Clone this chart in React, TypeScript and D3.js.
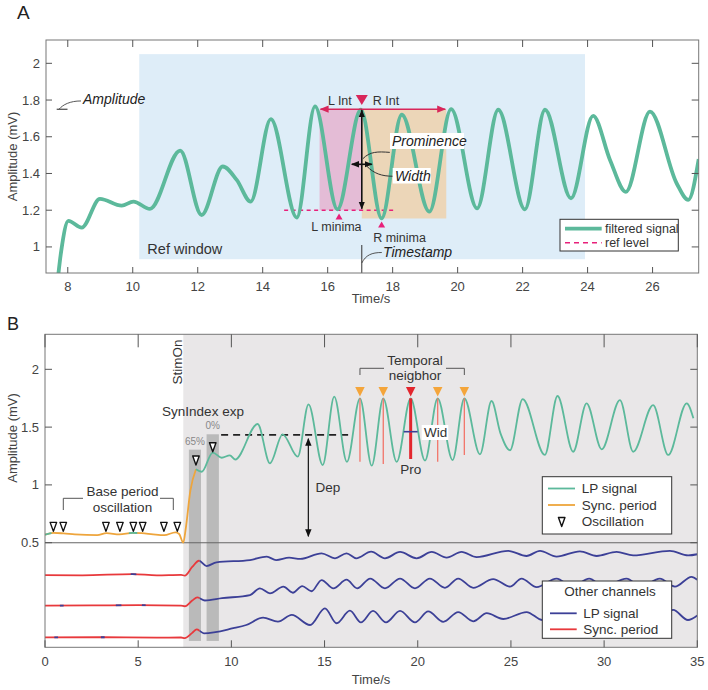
import React from 'react';
import * as d3 from 'd3';

// ---- Panel A: filtered signal (time s, amplitude mV), read at peaks / troughs
const signalA: [number, number][] = [
  [7.62, 0.7], [7.8, 0.98], [8.02, 1.142], [8.43, 1.105], [8.99, 1.262], [9.66, 1.225],
  [10.02, 1.247], [10.53, 1.207], [11.46, 1.525], [12.12, 1.174], [12.77, 1.438],
  [13.2, 1.365], [13.63, 1.247], [14.25, 1.696], [15.05, 1.16], [15.61, 1.765],
  [16.3, 1.205], [17.02, 1.747], [17.66, 1.156], [18.28, 1.72], [19.13, 1.192],
  [19.8, 1.75], [20.6, 1.21], [21.25, 1.747], [22.07, 1.205], [22.69, 1.747],
  [23.49, 1.265], [24.17, 1.714], [24.69, 1.474], [25.18, 1.3], [25.92, 1.737],
  [26.74, 1.347], [27.1, 1.256], [27.42, 1.478],
];
const xTicksA = [8, 10, 12, 14, 16, 18, 20, 22, 24, 26];
const yTicksA = [1, 1.2, 1.4, 1.6, 1.8, 2];

// ---- Panel B
const baseSignal: [number, number][] = [
  [0, 0.57], [0.45, 0.585], [1.0, 0.58], [1.6, 0.572], [2.8, 0.565], [3.3, 0.582],
  [4.0, 0.572], [4.7, 0.585], [5.2, 0.582], [5.8, 0.572], [6.4, 0.565], [7.0, 0.59],
  [7.2, 0.575], [7.42, 0.5], [7.55, 0.62], [7.8, 0.95], [8.1, 1.135],
];
const baseTealBits: [number, number][] = [[0, 0.35], [4.5, 4.95]];
const lpSignal: [number, number][] = [
  [8.1, 1.135], [8.41, 1.114], [9.0, 1.28], [9.48, 1.235], [9.92, 1.256], [10.2, 1.22],
  [11.41, 1.527], [12.07, 1.187], [12.75, 1.438], [13.56, 1.244], [14.14, 1.697],
  [14.9, 1.172], [15.52, 1.763], [16.2, 1.2], [16.9, 1.749], [17.53, 1.166],
  [18.15, 1.749], [18.87, 1.2], [19.62, 1.749], [20.39, 1.21], [21.07, 1.749],
  [21.87, 1.215], [22.5, 1.749], [23.34, 1.265], [23.96, 1.726], [24.44, 1.446],
  [24.95, 1.3], [25.63, 1.743], [26.82, 1.259], [27.5, 1.769], [28.34, 1.287],
  [29.06, 1.706], [29.87, 1.308], [30.85, 1.734], [31.56, 1.287], [32.63, 1.69],
  [33.44, 1.259], [34.43, 1.706], [34.79, 1.576],
];
const otherCh1: [number, number][] = [
  [0, 0.22], [2, 0.218], [4.7, 0.228], [6, 0.218], [7.3, 0.222], [7.5, 0.215],
  [7.9, 0.29], [8.26, 0.344], [8.67, 0.298], [9.2, 0.33], [11, 0.35], [11.9, 0.379],
  [12.4, 0.35], [13.1, 0.37], [13.7, 0.36], [14.84, 0.408], [15.56, 0.365],
  [16.18, 0.408], [16.7, 0.365], [17.5, 0.422], [18.24, 0.365], [19.05, 0.42],
  [19.94, 0.365], [20.75, 0.42], [21.55, 0.37], [22.35, 0.42], [23.16, 0.375],
  [24.85, 0.43], [25.84, 0.385], [26.56, 0.43], [27.45, 0.38], [28.7, 0.425],
  [29.6, 0.385], [30.67, 0.42], [31.56, 0.39], [33.53, 0.43], [34.51, 0.39], [35, 0.4],
];
const otherCh2: [number, number][] = [
  [0, -0.045], [2.5, -0.043], [5, -0.04], [7.3, -0.045], [7.5, -0.05], [7.9, 0.0],
  [8.17, 0.027], [8.58, 0.0], [9.5, 0.02], [11, 0.047], [11.53, 0.105], [12.07, 0.062],
  [12.79, 0.12], [13.3, 0.067], [13.8, 0.125], [14.3, 0.08], [14.84, 0.177],
  [15.47, 0.105], [16.18, 0.18], [16.75, 0.105], [17.45, 0.19], [18.24, 0.105],
  [19.05, 0.19], [19.85, 0.105], [20.65, 0.19], [21.46, 0.11], [22.17, 0.19],
  [22.98, 0.11], [24.05, 0.185], [24.95, 0.12], [25.57, 0.19], [26.38, 0.115],
  [27.45, 0.19], [28.3, 0.12], [29.2, 0.19], [30.0, 0.12], [31.2, 0.19], [32.0, 0.12],
  [32.99, 0.19], [33.8, 0.12], [34.69, 0.205], [35, 0.18],
];
const otherCh3: [number, number][] = [
  [0, -0.32], [3, -0.318], [6, -0.322], [7.3, -0.32], [7.5, -0.325], [7.9, -0.28],
  [8.14, -0.25], [8.53, -0.284], [10.1, -0.24], [10.8, -0.212], [11.7, -0.149],
  [12.5, -0.183], [13.24, -0.125], [14.22, -0.212], [15.02, -0.068], [15.65, -0.197],
  [16.36, -0.088], [16.95, -0.19], [17.6, -0.09], [18.3, -0.19], [19.05, -0.09],
  [19.85, -0.19], [20.56, -0.095], [21.37, -0.185], [22.17, -0.1], [22.98, -0.18],
  [23.7, -0.11], [24.59, -0.16], [25.84, -0.1], [26.7, -0.17], [27.5, -0.09],
  [28.3, -0.17], [29.1, -0.09], [29.9, -0.17], [30.7, -0.09], [31.5, -0.17],
  [32.3, -0.09], [33.0, -0.17], [33.7, -0.082], [34.5, -0.169], [35, -0.13],
];
const otherChannels = [otherCh1, otherCh2, otherCh3];
const otherBlueBits: [number, number][][] = [
  [[4.6, 4.9]],
  [[0.8, 1.0], [3.8, 4.1], [5.2, 5.4]],
  [[0.5, 0.7], [3.0, 3.2]],
];
const syncStart = 8.3;
const stimOn = 7.42;
const oscTimes = [0.45, 0.98, 3.27, 4.02, 4.74, 5.24, 6.38, 7.1];
const oscStim: [number, number][] = [[8.1, 1.172], [9.0, 1.287]];
const neighborPeaks = [16.9, 18.15, 19.62, 21.07, 22.5];
const neighborProBottom = [1.2, 1.18, 1.224, 1.2, 1.258];
const synIndex = [
  { label: '65%', t0: 7.72, t1: 8.37, top: 1.305 },
  { label: '0%', t0: 8.67, t1: 9.33, top: 1.438 },
];
const xTicksB = [0, 5, 10, 15, 20, 25, 30, 35];
const yTicksB = [0.5, 1, 1.5, 2];

const GREEN = '#5cb99b';
const ORANGE = '#eea53c';
const NAVY = '#3c4097';
const RED = '#e8393c';
const TXT = '#333';
const FONT = '"Liberation Sans", Arial, Helvetica, sans-serif';

const xA = d3.scaleLinear().domain([7.33, 27.42]).range([46, 698.7]);
const yA = d3.scaleLinear().domain([0.858, 2.127]).range([273, 40]);
const xB = d3.scaleLinear().domain([0, 35]).range([45, 697.3]);
const yB = d3.scaleLinear().domain([-0.405, 2.303]).range([647.3, 334.3]);

const lineA = d3.line<[number, number]>().x(d => xA(d[0])).y(d => yA(d[1])).curve(d3.curveMonotoneX);
const lineB = d3.line<[number, number]>().x(d => xB(d[0])).y(d => yB(d[1])).curve(d3.curveMonotoneX);

const downTri = (cx: number, tip: number, w: number, h: number) =>
  `M${cx - w / 2},${tip - h}L${cx + w / 2},${tip - h}L${cx},${tip}Z`;
const upTri = (cx: number, tip: number, w: number, h: number) =>
  `M${cx - w / 2},${tip + h}L${cx + w / 2},${tip + h}L${cx},${tip}Z`;

const App = () => {
  const [a0, a1] = xA.range();
  const [aB, aT] = yA.range();
  const [b0, b1] = xB.range();
  const [bB, bT] = yB.range();
  const peakT = 17.05;
  const peakX = xA(peakT);

  return (
    <svg width={708} height={690} style={{ position: 'absolute', left: 0, top: 0, background: '#fff' }}
      fontFamily={FONT}>
      <defs>
        <clipPath id="clipA"><rect x={a0} y={aT} width={a1 - a0} height={aB - aT} /></clipPath>
        <clipPath id="clipB"><rect x={b0} y={bT} width={b1 - b0} height={bB - bT} /></clipPath>
        <clipPath id="tealBits">
          {baseTealBits.map((r, i) => (
            <rect key={i} x={xB(r[0])} y={bT} width={xB(r[1]) - xB(r[0])} height={bB - bT} />
          ))}
        </clipPath>
        <clipPath id="redPart"><rect x={b0} y={bT} width={xB(syncStart) - b0} height={bB - bT} /></clipPath>
        {otherBlueBits.map((bits, k) => (
          <clipPath key={k} id={`bluePart${k}`}>
            <rect x={xB(syncStart)} y={bT} width={b1 - xB(syncStart)} height={bB - bT} />
            {bits.map((r, i) => (
              <rect key={i} x={xB(r[0])} y={bT} width={xB(r[1]) - xB(r[0])} height={bB - bT} />
            ))}
          </clipPath>
        ))}
        <marker id="arrRed" viewBox="0 0 10 10" refX="9" refY="5" markerWidth="9" markerHeight="9"
          markerUnits="userSpaceOnUse" orient="auto">
          <path d="M0,1L10,5L0,9Z" fill="#d8265a" />
        </marker>
        <marker id="arrBlk" viewBox="0 0 10 10" refX="9" refY="5" markerWidth="8" markerHeight="8"
          markerUnits="userSpaceOnUse" orient="auto-start-reverse">
          <path d="M0,1L10,5L0,9Z" fill="#111" />
        </marker>
      </defs>

      {/* ================= Panel A ================= */}
      <text x={17} y={19} fontSize={19} fill="#222">A</text>
      <rect x={xA(10.2)} y={yA(2.05)} width={xA(23.92) - xA(10.2)} height={yA(0.933) - yA(2.05)} fill="#deedf8" />
      <rect x={xA(15.75)} y={yA(1.75)} width={peakX - xA(15.75)} height={yA(1.2) - yA(1.75)} fill="#e4bcd6" />
      <rect x={peakX} y={yA(1.75)} width={xA(19.65) - peakX} height={yA(1.155) - yA(1.75)} fill="#ecd6b8" />
      <text x={xA(10.45)} y={254} fontSize={14.5} fill={TXT}>Ref window</text>

      <line x1={xA(14.66)} x2={xA(18.05)} y1={yA(1.2)} y2={yA(1.2)} stroke="#e8207a" strokeWidth={1.6}
        strokeDasharray="4,3.5" />
      <g clipPath="url(#clipA)">
        <path d={lineA(signalA) ?? ''} fill="none" stroke={GREEN} strokeWidth={3.8} strokeLinejoin="round" />
      </g>

      {/* interval arrows */}
      <line x1={peakX} x2={xA(15.78)} y1={yA(1.75)} y2={yA(1.75)} stroke="#d8265a" strokeWidth={1.6} markerEnd="url(#arrRed)" />
      <line x1={peakX} x2={xA(19.62)} y1={yA(1.75)} y2={yA(1.75)} stroke="#d8265a" strokeWidth={1.6} markerEnd="url(#arrRed)" />
      <path d={downTri(peakX, 105, 12, 10)} fill="#d8265a" />
      <text x={peakX - 10} y={105} fontSize={12.5} fill={TXT} textAnchor="end">L Int</text>
      <text x={peakX + 11} y={105} fontSize={12.5} fill={TXT}>R Int</text>

      {/* prominence & width */}
      <line x1={peakX} x2={peakX} y1={yA(1.745)} y2={yA(1.208)} stroke="#111" strokeWidth={1.6}
        markerStart="url(#arrBlk)" markerEnd="url(#arrBlk)" />
      <line x1={peakX - 10} x2={peakX + 10} y1={yA(1.45)} y2={yA(1.45)} stroke="#111" strokeWidth={1.6}
        markerStart="url(#arrBlk)" markerEnd="url(#arrBlk)" />
      <path d={`M${peakX + 1},${yA(1.48)} C${peakX + 8},${yA(1.52)} ${peakX + 16},${yA(1.52)} ${peakX + 28},${yA(1.515)}`}
        fill="none" stroke="#333" strokeWidth={1} />
      <path d={`M${peakX + 5},${yA(1.44)} C${peakX + 12},${yA(1.4)} ${peakX + 20},${yA(1.385)} ${peakX + 31},${yA(1.385)}`}
        fill="none" stroke="#333" strokeWidth={1} />
      <rect x={390} y={133} width={74} height={16} fill="#fff" />
      <text x={392} y={146} fontSize={14} fontStyle="italic" fill="#222">Prominence</text>
      <rect x={392.7} y={168} width={38} height={15.5} fill="#fff" />
      <text x={395} y={181} fontSize={14} fontStyle="italic" fill="#222">Width</text>

      {/* minima */}
      <path d={upTri(xA(16.35), 213.5, 7, 6)} fill="#e8207a" />
      <text x={xA(16.27)} y={231} fontSize={12.5} fill={TXT} textAnchor="middle">L minima</text>
      <path d={upTri(xA(17.66), 221.5, 7, 6)} fill="#e8207a" />
      <text x={xA(17.4)} y={241.5} fontSize={12.5} fill={TXT}>R minima</text>

      {/* amplitude / timestamp leaders */}
      <line x1={56.7} x2={67.5} y1={yA(1.75)} y2={yA(1.75)} stroke="#222" strokeWidth={1} />
      <path d={`M59,${yA(1.75)} C63,${yA(1.775)} 70,${yA(1.795)} 81,${yA(1.795)}`} fill="none" stroke="#444" strokeWidth={0.9} />
      <text x={83} y={104} fontSize={14} fontStyle="italic" fill="#222">Amplitude</text>
      <line x1={peakX} x2={peakX} y1={245} y2={aB} stroke="#333" strokeWidth={1} />
      <path d={`M${peakX},263 C${peakX + 4},255 ${peakX + 10},252.5 ${peakX + 20},252.5`} fill="none" stroke="#444" strokeWidth={0.9} />
      <text x={383} y={257} fontSize={14} fontStyle="italic" fill="#222">Timestamp</text>

      {/* legend A */}
      <rect x={560} y={219.3} width={118.3} height={31.7} fill="#fff" stroke="#333" strokeWidth={1} />
      <line x1={565} x2={601.7} y1={228.7} y2={228.7} stroke={GREEN} strokeWidth={3.8} />
      <text x={605} y={233} fontSize={12.5} fill={TXT}>filtered signal</text>
      <line x1={565} x2={601.7} y1={242.7} y2={242.7} stroke="#e8207a" strokeWidth={1.4} strokeDasharray="5,4" />
      <text x={605} y={247} fontSize={12.5} fill={TXT}>ref level</text>

      {/* axes A */}
      <rect x={a0} y={aT} width={a1 - a0} height={aB - aT} fill="none" stroke="#777" strokeWidth={1} />
      {xTicksA.map(t => (
        <g key={t}>
          <line x1={xA(t)} x2={xA(t)} y1={aB} y2={aB - 6} stroke="#555" />
          <line x1={xA(t)} x2={xA(t)} y1={aT} y2={aT + 7} stroke="#555" />
          <text x={xA(t)} y={291} fontSize={13} fill="#444" textAnchor="middle">{t}</text>
        </g>
      ))}
      {yTicksA.map(v => (
        <g key={v}>
          <line x1={a0} x2={a0 + 6} y1={yA(v)} y2={yA(v)} stroke="#555" />
          <line x1={a1} x2={a1 - 7} y1={yA(v)} y2={yA(v)} stroke="#555" />
          <text x={40} y={yA(v) + 4.5} fontSize={13} fill="#444" textAnchor="end">{v}</text>
        </g>
      ))}
      <text x={371} y={303} fontSize={13} fill="#444" textAnchor="middle">Time/s</text>
      <text transform={`translate(17,${(aT + aB) / 2}) rotate(-90)`} fontSize={13} fill="#444" textAnchor="middle">Amplitude (mV)</text>

      {/* ================= Panel B ================= */}
      <text x={7} y={330} fontSize={18} fill="#222">B</text>
      <rect x={xB(stimOn)} y={bT} width={b1 - xB(stimOn)} height={bB - bT} fill="#e9e7e8" />
      {synIndex.map(s => (
        <g key={s.label}>
          <rect x={xB(s.t0)} y={yB(s.top)} width={xB(s.t1) - xB(s.t0)} height={yB(-0.35) - yB(s.top)} fill="#bababa" />
          <text x={(xB(s.t0) + xB(s.t1)) / 2} y={yB(s.top) - 5} fontSize={10} fill="#888" textAnchor="middle">{s.label}</text>
        </g>
      ))}
      <text x={203} y={415.5} fontSize={13.5} fill={TXT} textAnchor="middle">SynIndex exp</text>
      <text transform={`translate(181.5,362) rotate(-90)`} fontSize={13.5} fill={TXT} textAnchor="middle">StimOn</text>

      {/* depth */}
      <line x1={xB(9.45)} x2={xB(16.3)} y1={yB(1.432)} y2={yB(1.432)} stroke="#222" strokeWidth={1.8} strokeDasharray="7,5" />
      <line x1={xB(14.13)} x2={xB(14.13)} y1={yB(1.4)} y2={yB(0.555)} stroke="#111" strokeWidth={1.2}
        markerStart="url(#arrBlk)" markerEnd="url(#arrBlk)" />
      <text x={328} y={491.5} fontSize={13.5} fill={TXT} textAnchor="middle">Dep</text>

      <line x1={b0} x2={b1} y1={yB(0.5)} y2={yB(0.5)} stroke="#666" strokeWidth={1.1} />

      <g clipPath="url(#clipB)">
        {otherChannels.map((ch, k) => (
          <g key={k}>
            <path d={lineB(ch) ?? ''} fill="none" stroke={RED} strokeWidth={1.8} clipPath="url(#redPart)" />
            <path d={lineB(ch) ?? ''} fill="none" stroke={NAVY} strokeWidth={1.8} clipPath={`url(#bluePart${k})`} />
          </g>
        ))}
        <path d={lineB(baseSignal) ?? ''} fill="none" stroke={ORANGE} strokeWidth={1.8} />
        <path d={lineB(baseSignal) ?? ''} fill="none" stroke={GREEN} strokeWidth={1.8} clipPath="url(#tealBits)" />
        <path d={lineB(lpSignal) ?? ''} fill="none" stroke={GREEN} strokeWidth={1.8} />
      </g>

      {/* oscillation markers */}
      {oscTimes.map(t => (
        <path key={t} d={downTri(xB(t), yB(0.598), 6.5, 9)} fill="#fff" stroke="#111" strokeWidth={1.4} strokeLinejoin="round" />
      ))}
      {oscStim.map(p => (
        <path key={p[0]} d={downTri(xB(p[0]), yB(p[1]), 6.5, 9)} fill="#fff" stroke="#111" strokeWidth={1.4} strokeLinejoin="round" />
      ))}

      {/* temporal neighbours */}
      {neighborPeaks.map((t, i) => {
        const center = i === 2;
        return (
          <g key={t}>
            <line x1={xB(t)} x2={xB(t)} y1={yB(1.749)} y2={yB(neighborProBottom[i])}
              stroke={center ? '#e3262d' : '#f2756a'} strokeWidth={center ? 3 : 1.3} />
            <path d={downTri(xB(t), yB(1.765), 9.5, 9.5)} fill={center ? '#e3262d' : '#f4a53a'} />
          </g>
        );
      })}
      <line x1={xB(19.62) - 7} x2={xB(19.62) + 7} y1={431.7} y2={431.7} stroke={NAVY} strokeWidth={1.6} />
      <rect x={421.7} y={425} width={26.6} height={15} fill="#fff" />
      <text x={424} y={437} fontSize={13.5} fill={TXT}>Wid</text>
      <text x={xB(19.62)} y={474} fontSize={13.5} fill={TXT} textAnchor="middle">Pro</text>

      {/* brackets */}
      <path d={`M${xB(16.9)},375 V368.3 H384 M446,368.3 H${xB(22.5)} V375`} fill="none" stroke="#555" strokeWidth={1} />
      <text x={415} y={365} fontSize={13.5} fill={TXT} textAnchor="middle">Temporal</text>
      <text x={415} y={380} fontSize={13.5} fill={TXT} textAnchor="middle">neigbhor</text>
      <path d={`M63.3,510 V498.3 H83 M160,498.3 H173.3 V510`} fill="none" stroke="#555" strokeWidth={1} />
      <text x={122.5} y={496} fontSize={13.5} fill={TXT} textAnchor="middle">Base period</text>
      <text x={122.5} y={511.5} fontSize={13.5} fill={TXT} textAnchor="middle">oscillation</text>

      {/* legends B */}
      <rect x={542.3} y={476.7} width={129.4} height={57.3} fill="#fff" stroke="#333" strokeWidth={1} />
      <line x1={548} x2={575} y1={488.5} y2={488.5} stroke={GREEN} strokeWidth={1.8} />
      <text x={581.7} y={493} fontSize={13.5} fill={TXT}>LP signal</text>
      <line x1={548} x2={575} y1={505} y2={505} stroke={ORANGE} strokeWidth={1.8} />
      <text x={581.7} y={509.5} fontSize={13.5} fill={TXT}>Sync. period</text>
      <path d={downTri(561.7, 526.5, 6.5, 9)} fill="#fff" stroke="#111" strokeWidth={1.4} strokeLinejoin="round" />
      <text x={581.7} y={526} fontSize={13.5} fill={TXT}>Oscillation</text>

      <rect x={542.3} y={581} width={129.4} height={57.3} fill="#fff" stroke="#333" strokeWidth={1} />
      <text x={610} y={596} fontSize={13.5} fill={TXT} textAnchor="middle">Other channels</text>
      <line x1={550} x2={576.7} y1={613.3} y2={613.3} stroke={NAVY} strokeWidth={1.8} />
      <text x={583.3} y={618} fontSize={13.5} fill={TXT}>LP signal</text>
      <line x1={550} x2={576.7} y1={629.3} y2={629.3} stroke={RED} strokeWidth={1.8} />
      <text x={583.3} y={634} fontSize={13.5} fill={TXT}>Sync. period</text>

      {/* axes B */}
      <rect x={b0} y={bT} width={b1 - b0} height={bB - bT} fill="none" stroke="#777" strokeWidth={1} />
      {xTicksB.map(t => (
        <g key={t}>
          <line x1={xB(t)} x2={xB(t)} y1={bB} y2={bB - 7} stroke="#555" />
          <line x1={xB(t)} x2={xB(t)} y1={bT} y2={bT + 13} stroke="#555" />
          <text x={xB(t)} y={666} fontSize={13} fill="#444" textAnchor="middle">{t}</text>
        </g>
      ))}
      {yTicksB.map(v => (
        <g key={v}>
          <line x1={b0} x2={b0 + 7} y1={yB(v)} y2={yB(v)} stroke="#555" />
          <line x1={b1} x2={b1 - 7} y1={yB(v)} y2={yB(v)} stroke="#555" />
          <text x={39} y={yB(v) + 4.5} fontSize={13} fill="#444" textAnchor="end">{v}</text>
        </g>
      ))}
      <text x={371} y={684} fontSize={13} fill="#444" textAnchor="middle">Time/s</text>
      <text transform={`translate(17,438) rotate(-90)`} fontSize={13} fill="#444" textAnchor="middle">Amplitude (mV)</text>
    </svg>
  );
};

export default App;
